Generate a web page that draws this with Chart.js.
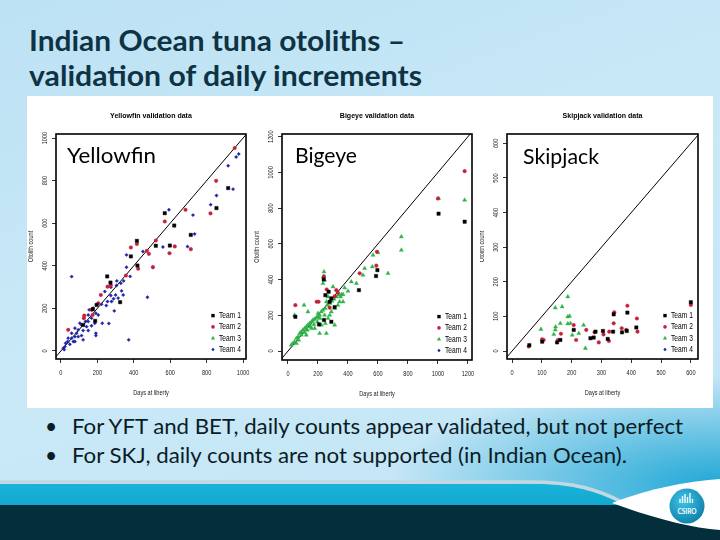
<!DOCTYPE html>
<html>
<head>
<meta charset="utf-8">
<script src="https://cdn.jsdelivr.net/npm/chart.js@4.4.1/dist/chart.umd.min.js"></script>
<style>
  html, body { margin: 0; padding: 0; }
  body { width: 720px; height: 540px; position: relative; overflow: hidden; background: #bfe3f5; font-family: Lato, "Open Sans", sans-serif; }
  #bg { position: absolute; left: 0; top: 0; width: 720px; height: 540px;
    background:
      radial-gradient(ellipse 330px 110px at 720px 485px, rgba(22,164,212,0.95), rgba(22,164,212,0) 100%),
      linear-gradient(160deg, #bde2f4 0%, #c9e9f7 50%, #c2e4f5 100%); }
  #deco { position: absolute; left: 0; top: 0; }
  .fit { position: absolute; white-space: nowrap; transform-origin: 0 50%; line-height: 1.2; }
  .title { left: 29px; color: #0e3344; font-weight: 700; font-size: 28px; }
  .bul { color: #0b1c26; font-size: 21px; }
  .tag { color: #000; font-size: 22px; }
  #panel { position: absolute; left: 27px; top: 96px; width: 686px; height: 312px; background: #fff; }
  canvas { position: absolute; top: 97px; }
</style>
</head>
<body>
<div id="bg"></div>
<svg id="deco" width="720" height="540">
  <defs>
    <linearGradient id="teal" x1="0" y1="0" x2="0" y2="1">
      <stop offset="0" stop-color="#19b4da"/><stop offset="1" stop-color="#0792ba"/>
    </linearGradient>
    <radialGradient id="logo" cx="0.4" cy="0.35" r="0.75">
      <stop offset="0" stop-color="#3fc4e6"/><stop offset="1" stop-color="#0a7aa5"/>
    </radialGradient>
  </defs>
  <path d="M0 484 L535 484 C578 484 600 492 625 504 L720 504 L720 540 L0 540 Z" fill="url(#teal)"/>
  <rect x="0" y="505" width="720" height="35" fill="#032f3d"/>
  <path d="M0 482 L530 482 C575 482 598 490 622 502" stroke="#c3d8e0" stroke-width="3.5" fill="none"/>
  <path d="M612 503 C650 488 690 481 720 479 L720 530 C690 528 650 517 612 503 Z" fill="#ffffff"/>
  <circle cx="687" cy="506" r="17.5" fill="url(#logo)"/>
  <g stroke="#ffffff" stroke-width="1.3">
    <line x1="680" y1="503" x2="680" y2="499"/><line x1="682.5" y1="503" x2="682.5" y2="496"/>
    <line x1="685" y1="503" x2="685" y2="494"/><line x1="687.5" y1="503" x2="687.5" y2="497"/>
    <line x1="690" y1="503" x2="690" y2="493"/><line x1="692.5" y1="503" x2="692.5" y2="499"/>
  </g>
  <text x="687" y="514" fill="#ffffff" font-family="Lato, sans-serif" font-weight="700" font-size="6.5" text-anchor="middle">CSIRO</text>
</svg>

<span class="fit title" style="top:24px" data-w="376">Indian Ocean tuna otoliths –</span>
<span class="fit title" style="top:59px" data-w="393">validation of daily increments</span>

<div id="panel"></div>
<canvas id="yft" width="226" height="308" style="left:28px"></canvas>
<canvas id="bet" width="226" height="308" style="left:254px"></canvas>
<canvas id="skj" width="232" height="308" style="left:480px"></canvas>

<span class="fit tag" style="left:67px;top:142px" data-w="89">Yellowfin</span>
<span class="fit tag" style="left:295px;top:142px" data-w="62">Bigeye</span>
<span class="fit tag" style="left:523px;top:143px" data-w="76">Skipjack</span>

<span class="fit bul" style="left:45px;top:413px">•</span>
<span class="fit bul" style="left:72px;top:413px" data-w="611">For YFT and BET, daily counts appear validated, but not perfect</span>
<span class="fit bul" style="left:45px;top:442px">•</span>
<span class="fit bul" style="left:72px;top:442px" data-w="555">For SKJ, daily counts are not supported (in Indian Ocean).</span>

<script>
const TEAMS = ["Team 1", "Team 2", "Team 3", "Team 4"];
const TEAM_COLORS = ["#000000", "#c4213a", "#2fb34a", "#1f23a6"];
const TEAM_SHAPES = ["rect", "circle", "triangle", "rectRot"];
const TEAM_RADII = [2.4, 1.8, 2.4, 1.7];

const ONE_TO_ONE = [-200, 2000];

const YFT_X_TICKS = [0, 200, 400, 600, 800, 1000];
const YFT_Y_TICKS = [0, 200, 400, 600, 800, 1000];
const BET_X_TICKS = [0, 200, 400, 600, 800, 1000, 1200];
const BET_Y_TICKS = [0, 200, 400, 600, 800, 1000, 1200];
const SKJ_X_TICKS = [0, 100, 200, 300, 400, 500, 600];
const SKJ_Y_TICKS = [0, 100, 200, 300, 400, 500, 600];

// Yellowfin: [days at liberty, otolith count]
const YFT_TEAM1 = [[570,647],[622,589],[713,545],[854,671],[918,765],[598,495],[521,494],[417,517],
  [384,444],[420,401],[254,350],[272,321],[325,229],[196,216],[175,196],[188,141],[122,122]];
const YFT_TEAM2 = [[954,953],[852,799],[821,646],[684,663],[570,608],[625,491],[596,459],[713,478],
  [521,519],[483,456],[472,470],[417,502],[384,486],[424,386],[357,354],[505,394],[256,302],[274,307],
  [219,263],[205,224],[168,193],[174,169],[128,166],[126,154],[40,99]];
const YFT_TEAM3 = [];
const YFT_TEAM4 = [[976,925],[918,870],[962,911],[854,730],[945,760],[822,687],[725,638],[734,549],
  [593,663],[560,488],[695,490],[505,392],[450,467],[360,451],[360,393],[380,350],[344,329],[333,282],
  [305,307],[274,299],[241,279],[278,232],[256,232],[223,219],[192,177],[227,130],[263,129],[192,83],
  [192,72],[59,349],[372,52],[475,252],[293,188],[249,213],[274,260],[342,263],[59,83],[77,107],[95,99],
  [113,122],[135,138],[150,138],[150,169],[168,154],[104,130],[37,44],[22,20],[13,13],[49,31],[68,44],
  [77,67],[95,67],[113,72],[122,96],[141,114],[86,83],[40,60],[59,60],[77,44],[26,36],[18,6],[122,52],
  [150,96],[186,130],[168,118],[205,169],[155,193],[177,201],[307,329],[329,318],[300,263],[314,248],[289,245]];

// Bigeye
const BET_TEAM1 = [[1004,769],[1178,724],[587,420],[596,453],[473,341],[238,401],[249,313],[271,332],
  [289,295],[311,246],[289,164],[240,174],[207,149],[49,192],[278,276]];
const BET_TEAM2 = [[1178,1007],[1000,854],[593,556],[589,478],[478,435],[240,418],[258,345],[322,341],
  [333,326],[204,276],[191,276],[49,257],[311,306],[278,243]];
const BET_TEAM3 = [[1004,854],[1178,845],[756,640],[756,565],[667,435],[600,551],[562,472],[567,537],
  [511,463],[500,425],[422,388],[378,354],[400,336],[367,317],[351,304],[240,444],[236,416],[233,379],
  [107,257],[44,201],[200,211],[133,220],[211,99],[256,99],[311,146],[22,34],[33,43],[44,52],[56,71],
  [67,80],[78,99],[89,108],[100,118],[111,127],[122,136],[133,146],[144,155],[156,164],[167,174],
  [178,179],[189,187],[200,192],[211,201],[222,220],[233,229],[249,239],[262,257],[278,267],[293,280],
  [307,291],[322,304],[338,313],[356,317],[151,136],[129,118],[111,104],[89,90],[71,62],[173,149],
  [196,164],[213,183],[178,127],[222,146],[249,155],[267,183],[289,220],[311,239],[333,257],[244,201],
  [278,201],[156,127],[122,90],[56,43],[344,276],[367,276],[256,276],[267,304],[300,360],[244,397],[456,379]];
const BET_TEAM4 = [];

// Skipjack
const SKJ_TEAM1 = [[58,17],[101,27],[151,25],[162,32],[207,61],[263,37],[274,39],[305,58],[321,35],
  [339,56],[341,106],[369,54],[385,58],[387,111],[417,68],[600,141],[280,56]];
const SKJ_TEAM2 = [[56,13],[101,34],[106,32],[154,32],[164,50],[207,75],[215,32],[249,61],[277,54],
  [291,25],[307,48],[325,29],[326,56],[341,80],[343,112],[368,66],[387,131],[383,61],[419,94],[421,56],[600,133]];
const SKJ_TEAM3 = [[97,63],[140,48],[145,61],[146,70],[145,125],[168,128],[187,157],[187,99],[193,101],
  [162,80],[187,79],[196,80],[202,46],[224,51],[240,75],[246,8]];
const SKJ_TEAM4 = [];

const SQ = 0.8;
const RFONT = "'Liberation Sans', Arial, sans-serif";

function squeezed(ctx, text, x, y, sq, angle) {
  ctx.save();
  ctx.translate(x, y);
  if (angle) ctx.rotate(angle);
  ctx.scale(sq, 1);
  ctx.fillText(text, 0, 0);
  ctx.restore();
}

function drawShape(ctx, shape, x, y, r) {
  ctx.beginPath();
  if (shape === "rect") {
    const s = r * Math.SQRT1_2;
    ctx.rect(x - s, y - s, 2 * s, 2 * s);
  } else if (shape === "circle") {
    ctx.arc(x, y, r, 0, Math.PI * 2);
  } else if (shape === "triangle") {
    ctx.moveTo(x, y - r);
    ctx.lineTo(x + r * 0.87, y + r * 0.5);
    ctx.lineTo(x - r * 0.87, y + r * 0.5);
    ctx.closePath();
  } else {
    ctx.moveTo(x, y - r); ctx.lineTo(x + r, y); ctx.lineTo(x, y + r); ctx.lineTo(x - r, y); ctx.closePath();
  }
  ctx.fill();
}

const rPlot = {
  id: "rPlot",
  afterDraw(chart, args, opts) {
    const { ctx, chartArea: a, scales } = chart;
    ctx.save();
    ctx.strokeStyle = "#000";
    ctx.lineWidth = 1.6;
    ctx.strokeRect(a.left, a.top, a.right - a.left, a.bottom - a.top);

    ctx.fillStyle = "#222";
    ctx.textAlign = "center";
    ctx.textBaseline = "middle";
    ctx.font = `7px ${RFONT}`;
    for (const t of scales.x.ticks) squeezed(ctx, String(t.value), scales.x.getPixelForValue(t.value), a.bottom + 14, SQ);
    for (const t of scales.y.ticks) squeezed(ctx, String(t.value), a.left - 11, scales.y.getPixelForValue(t.value), SQ, -Math.PI / 2);

    ctx.font = `7px ${RFONT}`;
    squeezed(ctx, "Days at liberty", (a.left + a.right) / 2, a.bottom + 34, SQ);
    squeezed(ctx, "Otolith count", a.left - 25, (a.top + a.bottom) / 2, SQ, -Math.PI / 2);

    ctx.fillStyle = "#000";
    ctx.font = `bold 8px ${RFONT}`;
    squeezed(ctx, opts.title, (a.left + a.right) / 2, a.top - 18, 0.88);

    ctx.font = `9px ${RFONT}`;
    ctx.textAlign = "left";
    TEAMS.forEach((name, i) => {
      const y = a.bottom - 9.5 - (TEAMS.length - 1 - i) * 11.3;
      ctx.fillStyle = TEAM_COLORS[i];
      drawShape(ctx, TEAM_SHAPES[i], a.right - 33, y, TEAM_RADII[i]);
      ctx.fillStyle = "#000";
      squeezed(ctx, name, a.right - 27, y, 0.74);
    });
    ctx.restore();
  }
};

function toPoints(pairs) {
  return pairs.map(([x, y]) => ({ x, y }));
}

function makePanel(id, title, teams, xTicks, yTicks, xRange, yRange, box) {
  const datasets = teams.map((pairs, i) => ({
    type: "scatter",
    label: TEAMS[i],
    data: toPoints(pairs),
    pointStyle: TEAM_SHAPES[i],
    pointRadius: TEAM_RADII[i],
    backgroundColor: TEAM_COLORS[i],
    borderColor: TEAM_COLORS[i],
    borderWidth: 0.4
  }));
  datasets.push({
    type: "line",
    label: "1:1",
    data: ONE_TO_ONE.map((v) => ({ x: v, y: v })),
    borderColor: "#000",
    borderWidth: 1,
    pointRadius: 0,
    fill: false
  });

  const axis = (ticks, range, isX) => ({
    type: "linear",
    min: range[0],
    max: range[1],
    afterBuildTicks: (s) => { s.ticks = ticks.map((value) => ({ value })); },
    afterFit: (s) => {
      if (isX) { s.height = box.xh; s.paddingLeft = 0; s.paddingRight = 0; }
      else { s.width = box.yw; s.paddingTop = 0; s.paddingBottom = 0; }
    },
    ticks: { display: false },
    border: { display: false },
    grid: { drawOnChartArea: false, drawTicks: true, tickLength: 4, color: "#000", lineWidth: 0.8 }
  });

  return new Chart(document.getElementById(id), {
    type: "scatter",
    data: { datasets },
    options: {
      responsive: false,
      animation: false,
      events: [],
      layout: { padding: { left: 0, top: 37, right: box.right, bottom: 0 } },
      scales: { x: axis(xTicks, xRange, true), y: axis(yTicks, yRange, false) },
      plugins: { legend: { display: false }, tooltip: { enabled: false }, rPlot: { title } }
    },
    plugins: [rPlot]
  });
}

makePanel("yft", "Yellowfin validation data", [YFT_TEAM1, YFT_TEAM2, YFT_TEAM3, YFT_TEAM4],
  YFT_X_TICKS, YFT_Y_TICKS, [-27, 1016], [-38, 1019], { yw: 28, xh: 46, right: 8 });
makePanel("bet", "Bigeye validation data", [BET_TEAM1, BET_TEAM2, BET_TEAM3, BET_TEAM4],
  BET_X_TICKS, BET_Y_TICKS, [-40, 1227], [-50, 1215], { yw: 28, xh: 45, right: 8 });
makePanel("skj", "Skipjack validation data", [SKJ_TEAM1, SKJ_TEAM2, SKJ_TEAM3, SKJ_TEAM4],
  SKJ_X_TICKS, SKJ_Y_TICKS, [-17, 624], [-23, 627], { yw: 27, xh: 46, right: 14 });

function fitText() {
  document.querySelectorAll("[data-w]").forEach((el) => {
    el.style.transform = "none";
    const w = el.getBoundingClientRect().width;
    if (w > 0) el.style.transform = `scaleX(${el.dataset.w / w})`;
  });
}
fitText();
if (document.fonts) document.fonts.ready.then(fitText);
</script>
</body>
</html>
